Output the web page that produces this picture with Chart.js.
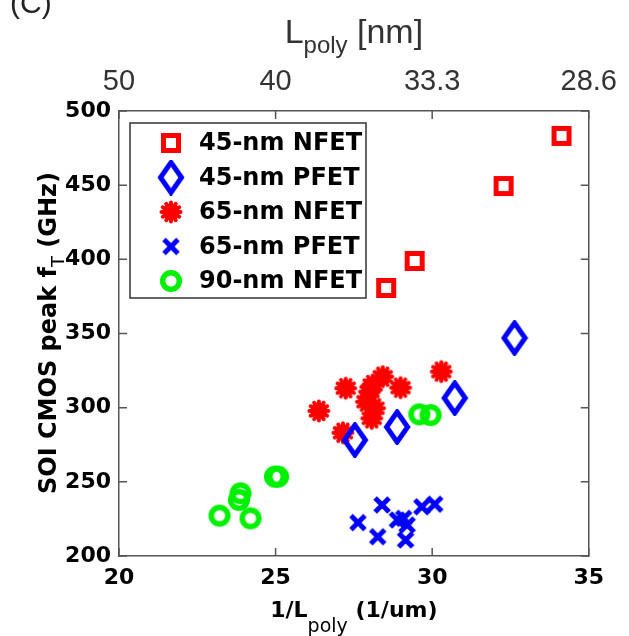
<!DOCTYPE html>
<html><head><meta charset="utf-8">
<script src="https://cdn.jsdelivr.net/npm/chart.js@4"></script>
<style>html,body{margin:0;padding:0;background:#fff;}canvas{display:block;}</style>
</head><body>
<canvas id="c" width="629" height="636"></canvas>
<script>
// ---- data ----
const seriesNames = ['45-nm NFET', '45-nm PFET', '65-nm NFET', '65-nm PFET', '90-nm NFET'];
const nfet45X = [28.53, 29.44, 32.28, 34.13];
const nfet45Y = [380.7, 398.9, 449.4, 483.2];
const pfet45X = [27.53, 28.88, 30.72, 32.63];
const pfet45Y = [278.2, 287.0, 306.5, 347.0];
const nfet65X = [26.38, 27.24, 27.15, 28.10, 28.42, 28.99, 27.90, 28.16, 28.07, 30.29, 28.00];
const nfet65Y = [297.8, 313.1, 283.1, 315.3, 320.9, 313.5, 304.0, 299.6, 292.8, 324.3, 310.8];
const pfet65X = [27.63, 28.40, 28.26, 28.89, 29.09, 29.15, 29.67, 30.08, 29.20];
const pfet65Y = [222.5, 234.4, 213.0, 224.3, 225.4, 210.8, 233.2, 234.9, 220.9];
const nfet90X = [23.21, 24.20, 23.88, 23.83, 25.08, 24.98, 29.59, 29.95];
const nfet90Y = [227.2, 225.4, 242.3, 237.8, 253.5, 253.5, 295.5, 295.0];
const bottomTicks = [20, 25, 30, 35];
const topTickLabels = ['50', '40', '33.3', '28.6'];
const yTicks = [200, 250, 300, 350, 400, 450, 500];

const RED = '#ff0000', BLUE = '#0000ff', GREEN = '#00f000';

function mk(w, h, fn) {
  const c = document.createElement('canvas'); c.width = w; c.height = h;
  const g = c.getContext('2d'); fn(g); return c;
}
const mSquare = mk(22, 22, g => { g.strokeStyle = RED; g.lineWidth = 5; g.strokeRect(3.5, 3.5, 15, 15); });
const mDiamond = mk(28, 36, g => { g.strokeStyle = BLUE; g.lineWidth = 5; g.lineJoin = 'miter';
  g.beginPath(); g.moveTo(14, 3); g.lineTo(24.5, 18); g.lineTo(14, 33); g.lineTo(3.5, 18); g.closePath(); g.stroke(); });
const mAster = mk(26, 26, g => { g.strokeStyle = RED; g.fillStyle = RED; g.lineWidth = 4; g.lineCap = 'round';
  for (let i = 0; i < 6; i++) { const a = i * Math.PI / 6; g.beginPath();
    g.moveTo(13 - 9.5 * Math.cos(a), 13 - 9.5 * Math.sin(a)); g.lineTo(13 + 9.5 * Math.cos(a), 13 + 9.5 * Math.sin(a)); g.stroke(); }
  g.beginPath(); g.arc(13, 13, 8, 0, Math.PI * 2); g.fill(); });
const mCross = mk(20, 20, g => { g.strokeStyle = BLUE; g.lineWidth = 5;
  g.beginPath(); g.moveTo(3, 3); g.lineTo(17, 17); g.moveTo(17, 3); g.lineTo(3, 17); g.stroke(); });
const mCircle = mk(26, 26, g => { g.strokeStyle = GREEN; g.lineWidth = 5.5;
  g.beginPath(); g.arc(13, 13, 8.3, 0, Math.PI * 2); g.stroke(); });
const markers = [mSquare, mDiamond, mAster, mCross, mCircle];
const colors = [RED, BLUE, RED, BLUE, GREEN];

function pts(xs, ys) { return xs.map((x, i) => ({ x: x, y: ys[i] })); }
const datasets = [
  pts(nfet45X, nfet45Y), pts(pfet45X, pfet45Y), pts(nfet65X, nfet65Y), pts(pfet65X, pfet65Y), pts(nfet90X, nfet90Y)
].map((d, i) => ({ label: seriesNames[i], data: d, pointStyle: markers[i], borderColor: colors[i], backgroundColor: colors[i], showLine: false }));

const BOLD = 'bold 22px "DejaVu Sans", Arial, sans-serif';
const YBOLD = 'bold 24px "DejaVu Sans", Arial, sans-serif';
const AXC = '#555555';

const decor = {
  id: 'decor',
  afterDraw(chart) {
    const ctx = chart.ctx, a = chart.chartArea;
    const sx = chart.scales.x, sy = chart.scales.y;
    ctx.save();
    // inward tick marks
    ctx.strokeStyle = AXC; ctx.lineWidth = 1.5;
    ctx.beginPath();
    bottomTicks.forEach(v => { const px = sx.getPixelForValue(v);
      ctx.moveTo(px, a.bottom); ctx.lineTo(px, a.bottom - 8);
      ctx.moveTo(px, a.top); ctx.lineTo(px, a.top + 8); });
    yTicks.forEach(v => { const py = sy.getPixelForValue(v);
      ctx.moveTo(a.left, py); ctx.lineTo(a.left + 8, py);
      ctx.moveTo(a.right, py); ctx.lineTo(a.right - 8, py); });
    ctx.stroke();

    // legend
    const lx = 130, ly = 123, lw = 236, lh = 175;
    ctx.fillStyle = '#fff'; ctx.fillRect(lx, ly, lw, lh);
    ctx.strokeStyle = '#333'; ctx.lineWidth = 1.5; ctx.strokeRect(lx, ly, lw, lh);
    ctx.font = 'bold 24px "DejaVu Sans", Arial, sans-serif';
    ctx.fillStyle = '#000'; ctx.textAlign = 'left'; ctx.textBaseline = 'middle';
    chart.data.datasets.forEach((ds, i) => {
      const y = ly + 20 + i * 34.5;
      const m = ds.pointStyle;
      ctx.drawImage(m, 171 - m.width / 2, y - m.height / 2);
      ctx.fillText(ds.label, 199, y + 1);
    });

    // (C)
    ctx.font = '30px "Liberation Sans", Arial, sans-serif';
    ctx.fillStyle = '#222'; ctx.textBaseline = 'alphabetic'; ctx.textAlign = 'left';
    ctx.fillText('(C)', 10, 13);

    // top title L_poly [nm]
    const cx = (a.left + a.right) / 2;
    ctx.font = '34px "Liberation Sans", Arial, sans-serif';
    const w1 = ctx.measureText('L').width;
    ctx.font = '24px "Liberation Sans", Arial, sans-serif';
    const w2 = ctx.measureText('poly').width;
    ctx.font = '34px "Liberation Sans", Arial, sans-serif';
    const w3 = ctx.measureText(' [nm]').width;
    let x0 = cx - (w1 + w2 + w3) / 2;
    ctx.fillStyle = '#333';
    ctx.fillText('L', x0, 43);
    ctx.font = '24px "Liberation Sans", Arial, sans-serif';
    ctx.fillText('poly', x0 + w1, 53);
    ctx.font = '34px "Liberation Sans", Arial, sans-serif';
    ctx.fillText(' [nm]', x0 + w1 + w2, 43);

    // bottom title 1/L_poly (1/um)
    ctx.fillStyle = '#000';
    ctx.font = BOLD;
    const b1 = ctx.measureText('1/L').width;
    ctx.font = '19px "DejaVu Sans", Arial, sans-serif';
    const b2 = ctx.measureText('poly').width;
    ctx.font = BOLD;
    const b3 = ctx.measureText(' (1/um)').width;
    x0 = cx - (b1 + b2 + b3) / 2;
    ctx.fillText('1/L', x0, 617);
    ctx.font = '19px "DejaVu Sans", Arial, sans-serif';
    ctx.fillText('poly', x0 + b1, 632);
    ctx.font = BOLD;
    ctx.fillText(' (1/um)', x0 + b1 + b2, 617);

    // y title
    ctx.translate(56, 333);
    ctx.rotate(-Math.PI / 2);
    ctx.font = YBOLD;
    const t1 = ctx.measureText('SOI CMOS peak f').width;
    ctx.font = '18px "DejaVu Sans", Arial, sans-serif';
    const t2 = ctx.measureText('T').width;
    ctx.font = YBOLD;
    const t3 = ctx.measureText(' (GHz)').width;
    x0 = -(t1 + t2 + t3) / 2;
    ctx.fillText('SOI CMOS peak f', x0, 0);
    ctx.font = '18px "DejaVu Sans", Arial, sans-serif';
    ctx.fillText('T', x0 + t1, 8);
    ctx.font = YBOLD;
    ctx.fillText(' (GHz)', x0 + t1 + t2, 0);
    ctx.restore();
  }
};

new Chart(document.getElementById('c'), {
  type: 'scatter',
  data: { datasets: datasets },
  options: {
    responsive: false, animation: false, events: [],
    layout: { padding: 0 },
    plugins: { legend: { display: false }, tooltip: { enabled: false } },
    elements: { point: { radius: 10 } },
    scales: {
      x: {
        type: 'linear', position: 'bottom', min: 20, max: 35,
        afterBuildTicks: s => { s.ticks = bottomTicks.map(v => ({ value: v })); },
        afterFit: s => { s.height = 80; },
        grid: { display: false, drawTicks: false },
        border: { display: true, color: AXC, width: 1.5 },
        ticks: { font: { family: '"DejaVu Sans", Arial', size: 22, weight: 'bold' }, color: '#000', padding: 9, maxRotation: 0 }
      },
      x2: {
        type: 'linear', position: 'top', min: 20, max: 35,
        afterBuildTicks: s => { s.ticks = bottomTicks.map(v => ({ value: v })); },
        afterFit: s => { s.height = 111; },
        grid: { display: false, drawTicks: false },
        border: { display: true, color: AXC, width: 1.5 },
        ticks: { font: { family: '"Liberation Sans", Arial', size: 29 }, color: '#333', padding: 12, maxRotation: 0,
          callback: (v, i) => topTickLabels[i] }
      },
      y: {
        type: 'linear', position: 'left', min: 200, max: 500,
        afterBuildTicks: s => { s.ticks = yTicks.map(v => ({ value: v })); },
        afterFit: s => { s.width = 119; },
        grid: { display: false, drawTicks: false },
        border: { display: true, color: AXC, width: 1.5 },
        ticks: { font: { family: '"DejaVu Sans", Arial', size: 22, weight: 'bold' }, color: '#000', padding: 8 }
      },
      y2: {
        type: 'linear', position: 'right', min: 200, max: 500,
        afterFit: s => { s.width = 30; },
        grid: { display: false, drawTicks: false },
        border: { display: true, color: AXC, width: 1.5 },
        ticks: { display: false }
      }
    }
  },
  plugins: [decor]
});
</script>
</body></html>
